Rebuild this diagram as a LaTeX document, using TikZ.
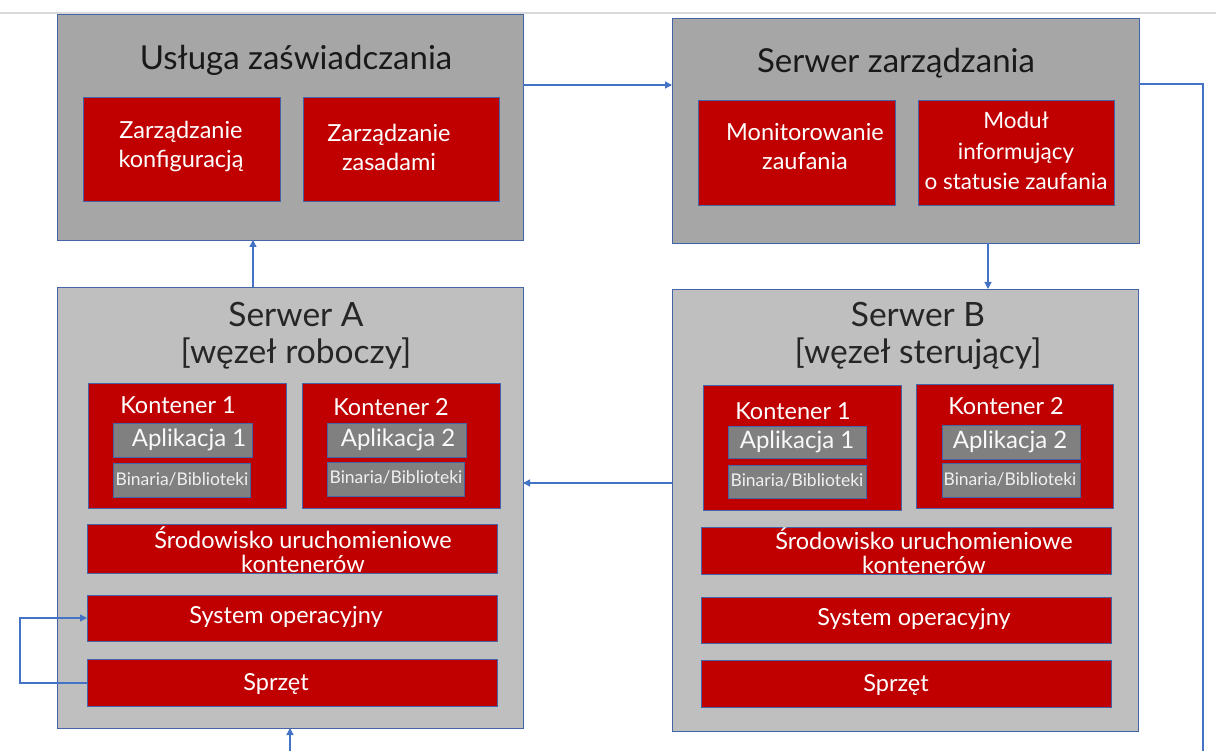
\documentclass[tikz,border=0pt]{standalone}
\usepackage{fontspec}
\setmainfont{Lato}
\usetikzlibrary{arrows.meta}
\definecolor{redbox}{RGB}{192,0,0}
\definecolor{darkgraybox}{RGB}{166,166,166}
\definecolor{lightgraybox}{RGB}{191,191,191}
\definecolor{appgray}{RGB}{128,128,128}
\definecolor{edgeblue}{RGB}{68,100,170}
\definecolor{arrowblue}{RGB}{68,114,196}
\definecolor{topline}{RGB}{217,217,217}
\newcommand\rbox[6]{\node[#6, minimum width={#4-#2}, minimum height={#5-#3}] (#1) at ({(#2+#4)/2},{(#3+#5)/2}) {};}
\tikzset{
  base/.style={draw=edgeblue, line width=0.9pt, inner sep=0pt, outer sep=0pt, rectangle},
  outerdark/.style={base, fill=darkgraybox},
  outerlight/.style={base, fill=lightgraybox},
  redb/.style={base, fill=redbox},
  appb/.style={base, fill=appgray},
  bigtitle/.style={font=\fontsize{33}{36}\selectfont, text=black!90, align=center},
  srvtitle/.style={font=\fontsize{33.5}{37}\selectfont, text=black!85, align=center},
  wtxt/.style={font=\fontsize{23.5}{29}\selectfont, text=white, align=center},
  wtxt2/.style={font=\fontsize{23.5}{24}\selectfont, text=white, align=center},
  apptxt/.style={font=\fontsize{24}{24}\selectfont, text=white!95!gray},
  bintxt/.style={font=\fontsize{17.5}{18}\selectfont, text=white!88!gray},
  conn/.style={draw=arrowblue, line width=1.3pt},
  arr/.style={conn, -{Triangle[length=7pt,width=7pt]}}
}
\begin{document}
\begin{tikzpicture}[x=1pt,y=-1pt]
\useasboundingbox (0,0) rectangle (1216,751);
\fill[white] (0,0) rectangle (1216,751);
\draw[topline, line width=1.5pt] (0,13) -- (1216,13);

% Usluga zaswiadczania
\rbox{usl}{57}{14}{523}{240}{outerdark}
\node[bigtitle] (uslt) at (296,60) {Usługa zaświadczania};
\rbox{zk}{83}{97}{280}{201}{redb}
\rbox{zz}{303}{97}{499}{201}{redb}
\node[wtxt] (zkt) at (181,146) {Zarządzanie\\konfiguracją};
\node[wtxt] (zzt) at (389,147) {Zarządzanie\\zasadami};

% Serwer zarzadzania
\rbox{sz}{672}{18}{1139}{243}{outerdark}
\node[bigtitle] (szt) at (896,63) {Serwer zarządzania};
\rbox{mz}{698}{100}{895}{205}{redb}
\rbox{mi}{918}{100}{1114}{205}{redb}
\node[wtxt] (mzt) at (805,147) {Monitorowanie\\zaufania};
\node[wtxt, font=\fontsize{22.5}{30.5}\selectfont] (mit) at (1016,151) {Moduł\\informujący\\o statusie zaufania};

% Serwer A
\rbox{sa}{57}{287}{523}{728}{outerlight}
\node[srvtitle] (sat) at (296,336) {Serwer A\\{[węzeł roboczy]}};
\rbox{ka1}{88}{383}{286}{508}{redb}
\rbox{ka2}{302}{383}{500}{508}{redb}
\node[wtxt] (ka1t) at (178,405) {Kontener 1};
\node[wtxt] (ka2t) at (391,407) {Kontener 2};
\rbox{aa1}{113}{423}{252}{457}{appb}
\rbox{ba1}{113}{463}{250}{497}{appb}
\rbox{aa2}{327}{423}{466}{457}{appb}
\rbox{ba2}{327}{462}{464}{496}{appb}
\node[apptxt] (aa1t) at (189,440) {Aplikacja 1};
\node[bintxt] (ba1t) at (182,479) {Binaria/Biblioteki};
\node[apptxt] (aa2t) at (398,440) {Aplikacja 2};
\node[bintxt] (ba2t) at (396,477) {Binaria/Biblioteki};
\rbox{sra}{87}{524}{497}{573}{redb}
\node[wtxt2] (srat) at (303,550) {Środowisko uruchomieniowe\\kontenerów};
\rbox{soa}{87}{595}{497}{641}{redb}
\node[wtxt] (soat) at (286,617) {System operacyjny};
\rbox{spa}{87}{659}{497}{706}{redb}
\node[wtxt] (spat) at (276,684) {Sprzęt};

% Serwer B
\rbox{sb}{672}{289}{1138}{731}{outerlight}
\node[srvtitle] (sbt) at (918,336) {Serwer B\\{[węzeł sterujący]}};
\rbox{kb1}{703}{385}{901}{510}{redb}
\rbox{kb2}{916}{384}{1113}{508}{redb}
\node[wtxt] (kb1t) at (793,411) {Kontener 1};
\node[wtxt] (kb2t) at (1006,406) {Kontener 2};
\rbox{ab1}{728}{426}{866}{458}{appb}
\rbox{bb1}{728}{465}{866}{498}{appb}
\rbox{ab2}{942}{425}{1080}{459}{appb}
\rbox{bb2}{942}{463}{1080}{497}{appb}
\node[apptxt] (ab1t) at (797,442) {Aplikacja 1};
\node[bintxt] (bb1t) at (797,480) {Binaria/Biblioteki};
\node[apptxt] (ab2t) at (1010,442) {Aplikacja 2};
\node[bintxt] (bb2t) at (1010,479) {Binaria/Biblioteki};
\rbox{srb}{701}{527}{1111}{574}{redb}
\node[wtxt2] (srbt) at (924,551) {Środowisko uruchomieniowe\\kontenerów};
\rbox{sob}{701}{597}{1111}{643}{redb}
\node[wtxt] (sobt) at (914,619) {System operacyjny};
\rbox{spb}{701}{660}{1111}{707}{redb}
\node[wtxt] (spbt) at (896,685) {Sprzęt};

% connectors
\coordinate (c1) at (523,85);
\coordinate (c2) at (672,85);
\draw[arr] (c1) -- (c2);
\draw[arr] (988,243) -- (988,289);
\draw[arr] (253,287) -- (253,240);
\draw[arr] (672,483) -- (523,483);
\coordinate (r1) at (1203,84);
\coordinate (r2) at (1203,751);
\draw[conn] (1139,84) -- (r1) -- (r2);
\coordinate (b1) at (290,751);
\draw[arr] (b1) -- (290,728);
\coordinate (l1) at (20,683);
\coordinate (l2) at (20,618);
\draw[arr] (spa.west |- 0,683) -- (l1) -- (l2) -- (soa.west |- 0,618);
\end{tikzpicture}
\end{document}
